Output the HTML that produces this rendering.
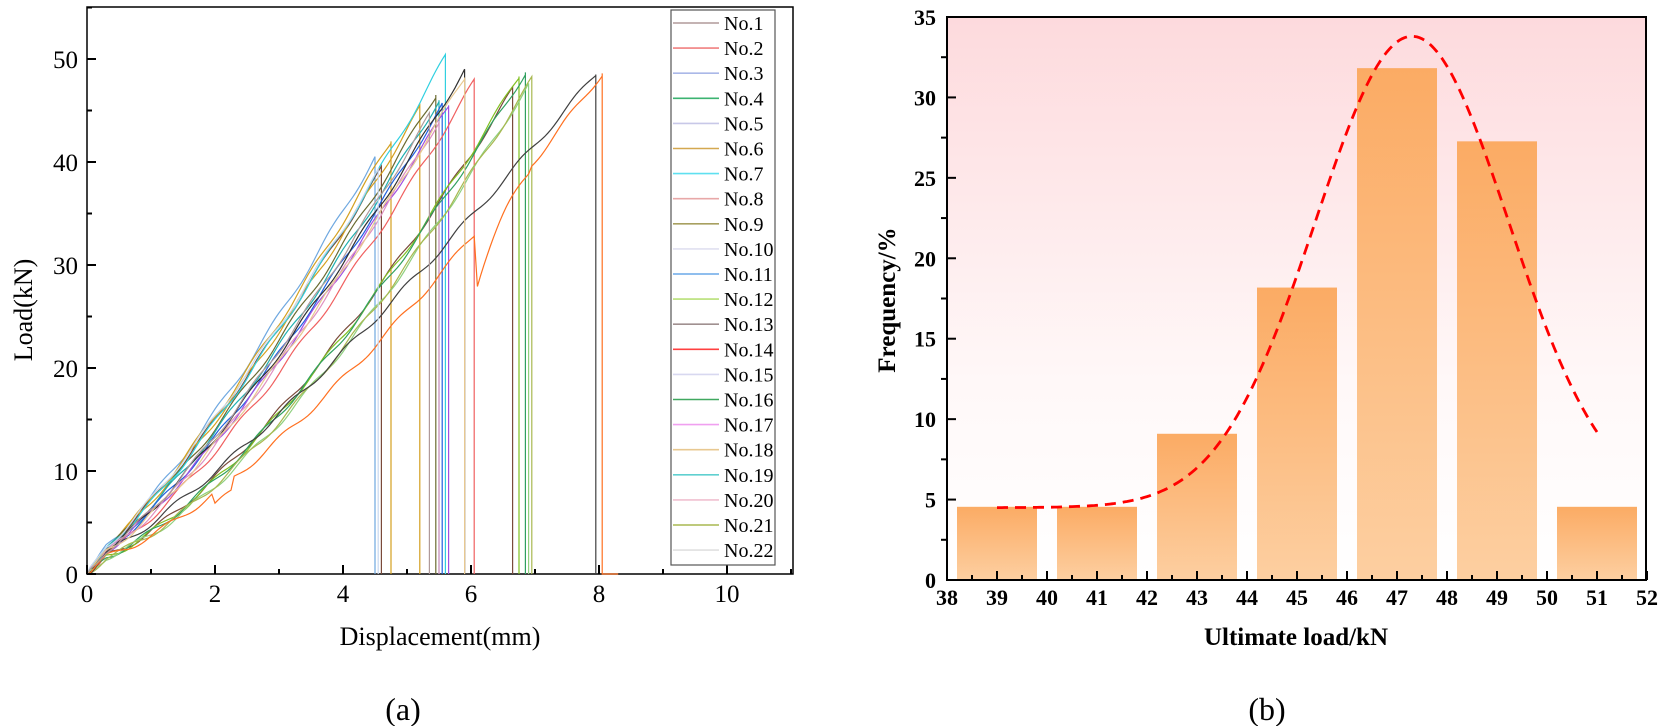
<!DOCTYPE html>
<html><head><meta charset="utf-8"><style>
html,body{margin:0;padding:0;background:#fff;}
svg{display:block;}
svg text{font-family:"Liberation Serif","DejaVu Serif","Times New Roman",serif;fill:#000;}
.b{font-weight:bold;}
</style></head><body>
<svg id="s" width="1663" height="726" viewBox="0 0 1663 726" xmlns="http://www.w3.org/2000/svg" font-family="Liberation Serif, DejaVu Serif, serif">
<defs>
<linearGradient id="bg" x1="0" y1="0" x2="0" y2="1">
<stop offset="0" stop-color="#fddadd"/><stop offset="0.65" stop-color="#fff8f8"/><stop offset="1" stop-color="#ffffff"/>
</linearGradient>
<linearGradient id="bar" x1="0" y1="0" x2="0" y2="1">
<stop offset="0" stop-color="#fbab64"/><stop offset="1" stop-color="#fdcfa1"/>
</linearGradient>
</defs>
<rect x="87" y="7" width="706" height="567" fill="#fff" stroke="#000" stroke-width="1.5"/>
<g id="curves"></g>
<g id="lticks" stroke="#000" stroke-width="2"></g>
<g id="llegend"></g>
<text x="440" y="645" font-size="26" text-anchor="middle">Displacement(mm)</text>
<text transform="translate(32,310) rotate(-90)" font-size="26" text-anchor="middle">Load(kN)</text>
<text x="403" y="720" font-size="32" text-anchor="middle">(a)</text>
<rect x="947" y="17" width="699" height="563" fill="url(#bg)"/>
<g id="bars"></g>
<path id="gauss" fill="none" stroke="#ff0000" stroke-width="2.8" stroke-dasharray="11,7"/>
<rect x="947" y="17" width="699" height="563" fill="none" stroke="#000" stroke-width="2"/>
<g id="rticks" stroke="#000" stroke-width="2"></g>
<text x="1296" y="645" font-size="25" class="b" text-anchor="middle">Ultimate load/kN</text>
<text transform="translate(895,300) rotate(-90)" font-size="25" class="b" text-anchor="middle">Frequency/%</text>
<text x="1267" y="720" font-size="32" text-anchor="middle">(b)</text>
</svg>
<script>
var NS="http://www.w3.org/2000/svg";
function el(p,t,a,txt){var e=document.createElementNS(NS,t);for(var k in a)e.setAttribute(k,a[k]);if(txt!==undefined)e.textContent=txt;p.appendChild(e);return e;}
function lx(x){return 87+x*64;} function ly(y){return 574-y*10.3;}
var lt=document.getElementById('lticks'),S=document.getElementById('s');
for(var i=0;i<=11;i++){var L=i%2==0?9:5;el(lt,'line',{x1:lx(i),y1:574,x2:lx(i),y2:574-L});
 if(i%2==0)el(S,'text',{x:lx(i),y:602,'font-size':25,'text-anchor':'middle'},String(i));}
for(var v=0;v<=55;v+=5){var L=v%10==0?9:5;el(lt,'line',{x1:87,y1:ly(v),x2:87+L,y2:ly(v)});
 if(v%10==0)el(S,'text',{x:78,y:ly(v)+9,'font-size':25,'text-anchor':'end'},String(v));}
var cv=[
 [4.5,40.5,1.22,'#6fa8e0'],[4.6,39.3,1.22,'#7a4a3a'],[4.75,42,1.22,'#d4a020'],[5.2,45.2,1.22,'#d4a020'],
 [5.45,46.5,1.24,'#6a6a30'],[5.5,46,1.25,'#20b0b0'],[5.55,45.5,1.27,'#2060e0'],[5.6,50.2,1.24,'#30d0e0'],
 [5.65,45.5,1.28,'#a050e0'],[5.9,49,1.27,'#303030'],[6.05,47.8,1.32,'#f06060'],[5.5,44,1.3,'#e090c0'],
 [6.65,47,1.42,'#7a4a3a'],[6.75,48.3,1.45,'#80c020'],[6.85,48.7,1.44,'#30a060'],[6.9,47.5,1.47,'#90d080'],
 [6.95,48,1.46,'#a8b850'],[7.95,48.5,1.22,'#404040'],[8.05,48.6,1.39,'#ff7020'],[5.9,48.2,1.3,'#e8c890'],
 [4.55,39,1.2,'#c8d8f0'],[5.35,44.5,1.28,'#b09a9a']];
var g=document.getElementById('curves');
cv.forEach(function(c,ci){var xp=c[0],yp=c[1],p=c[2],d='M'+lx(0)+','+ly(0);
 for(var x=0.05;x<=xp;x+=0.05){var y=yp*Math.pow(x/xp,p)+1.2*Math.min(1,x/0.3)*(1-x/xp)+0.3*Math.sin(x*7+ci);
  if(ci==18&&x>2&&x<2.3)y-=1.2;if(ci==18&&x>6.05&&x<6.9)y-=6*Math.exp(-(x-6.05)*3);
  d+=' L'+lx(x).toFixed(1)+','+ly(Math.max(0,y)).toFixed(1);}
 d+=' L'+lx(xp)+','+ly(yp)+' L'+lx(xp)+','+ly(0);if(ci==18)d+=' L'+lx(8.3)+','+ly(0);
 el(g,'path',{d:d,fill:'none',stroke:c[3],'stroke-width':1.2});});
var lg=document.getElementById('llegend');
el(lg,'rect',{x:671,y:10,width:104,height:555,fill:'#fff',stroke:'#555','stroke-width':1.2});
var lc=['#b09a9a','#f08080','#aab8e8','#3cb371','#c8c8e8','#d4a850','#5fe0f0','#e8a8a8','#a8a060','#e0e0f0','#6aa8e8','#b8e078','#a09090','#ff4040','#d8d8f0','#40a860','#f0a0f0','#e8c890','#60d0d0','#f0c0d0','#a8b850','#e0e0e0'];
for(var i=0;i<22;i++){var y=23+i*25.1;el(lg,'line',{x1:673,y1:y,x2:719,y2:y,stroke:lc[i],'stroke-width':1.6});
 el(lg,'text',{x:724,y:y+7,'font-size':20},'No.'+(i+1));}
function rx(x){return 947+(x-38)*50;} function ry(y){return 580-y*16.086;}
var bars=[4.55,4.55,9.09,18.18,31.82,27.27,4.55],bg=document.getElementById('bars');
bars.forEach(function(h,i){var x0=38+2*i;el(bg,'rect',{x:rx(x0+0.2),y:ry(h),width:80,height:580-ry(h),fill:'url(#bar)'});});
var d='';for(var x=39;x<=51.001;x+=0.05){var y=4.5+29.3*Math.exp(-Math.pow(x-47.3,2)/7.48);d+=(d?' L':'M')+rx(x).toFixed(1)+','+ry(y).toFixed(1);}
document.getElementById('gauss').setAttribute('d',d);
var rt=document.getElementById('rticks');
for(var x=38;x<=52;x+=0.5){var maj=(x%1==0);el(rt,'line',{x1:rx(x),y1:580,x2:rx(x),y2:580-(maj?9:5)});
 if(maj)el(S,'text',{x:rx(x),y:605,'font-size':22,'class':'b','text-anchor':'middle'},String(x));}
for(var v=0;v<=35;v+=2.5){var maj=(v%5==0);el(rt,'line',{x1:947,y1:ry(v),x2:maj?956:941,y2:ry(v)});
 if(maj)el(S,'text',{x:936,y:ry(v)+8,'font-size':22,'class':'b','text-anchor':'end'},String(v));}
</script>
</body></html>
